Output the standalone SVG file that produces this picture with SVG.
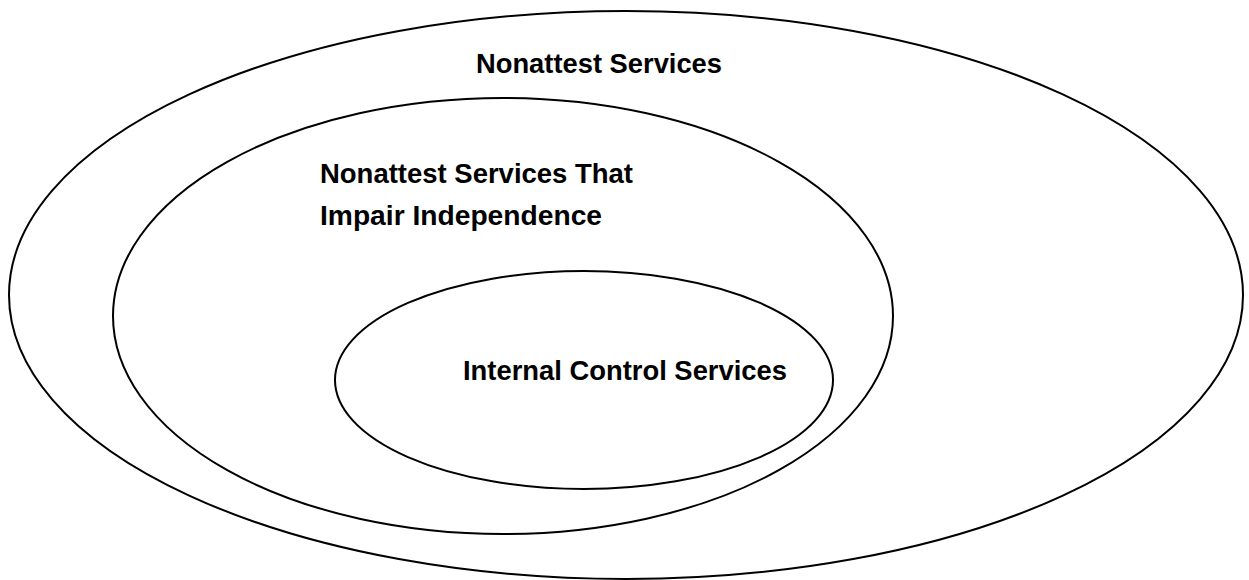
<svg xmlns="http://www.w3.org/2000/svg" width="1249" height="580" viewBox="0 0 1249 580">
<style>
.e{fill:none;stroke:#000;stroke-width:2}
.t{font-family:"Liberation Sans",Arial,sans-serif;font-weight:bold;font-size:28px;fill:#000}
</style>
<rect width="1249" height="580" fill="#fff"/>
<g id="outer">
<ellipse class="e" cx="626" cy="295" rx="617" ry="284"/>
<text class="t" x="476" y="73" textLength="246" lengthAdjust="spacingAndGlyphs">Nonattest Services</text>
</g>
<g id="middle">
<ellipse class="e" cx="503" cy="316" rx="390" ry="218"/>
<text class="t" x="320" y="183" textLength="313" lengthAdjust="spacingAndGlyphs">Nonattest Services That</text>
<text class="t" x="320" y="225" textLength="282" lengthAdjust="spacingAndGlyphs">Impair Independence</text>
</g>
<g id="inner">
<ellipse class="e" cx="584" cy="380" rx="249" ry="109"/>
<text class="t" x="463" y="380" textLength="324" lengthAdjust="spacingAndGlyphs">Internal Control Services</text>
</g>
<g id="connectors"></g>
</svg>
